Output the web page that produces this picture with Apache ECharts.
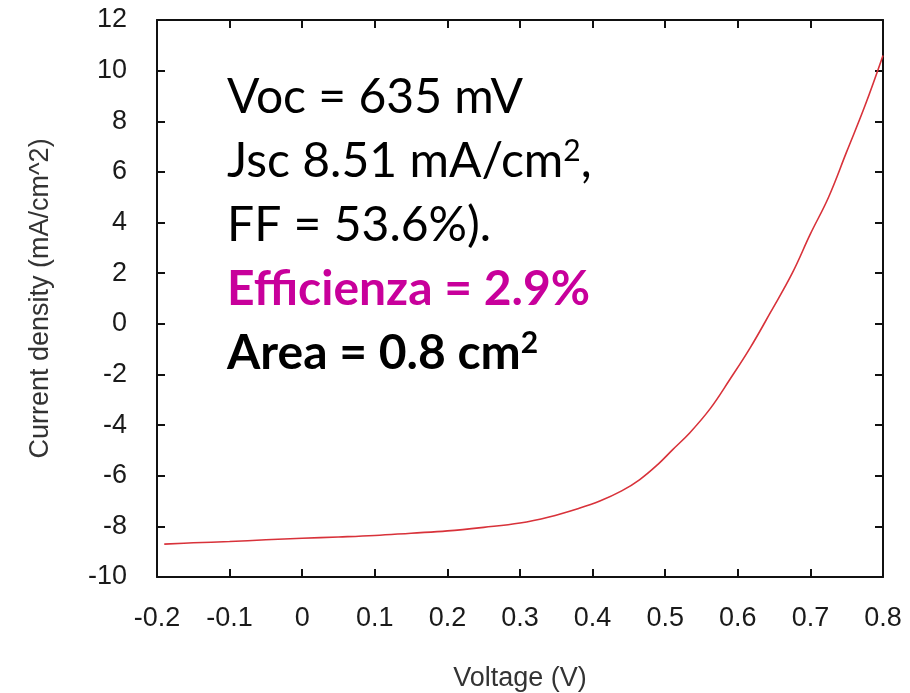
<!DOCTYPE html>
<html><head><meta charset="utf-8">
<script src="https://cdn.jsdelivr.net/npm/echarts@6/dist/echarts.min.js"></script>
<style>html,body{margin:0;padding:0;background:#fff}#c{width:910px;height:693px}</style>
</head><body><div id="c"></div>
<script>
// Voltage (V)
const voltage = [-0.19,-0.15,-0.1,-0.05,0,0.05,0.1,0.15,0.2,0.25,0.3,0.34,0.38,0.41,0.44,0.465,0.49,0.51,0.534,0.562,0.589,0.617,0.645,0.675,0.7,0.725,0.75,0.775,0.8];
// Current density (mA/cm^2)
const current = [-8.70,-8.65,-8.60,-8.53,-8.47,-8.42,-8.36,-8.27,-8.18,-8.04,-7.87,-7.63,-7.30,-7.0,-6.6,-6.15,-5.55,-4.98,-4.3,-3.35,-2.2,-0.95,0.45,2.0,3.55,5.0,6.8,8.6,10.6];
const xTicks = [-0.2,-0.1,0,0.1,0.2,0.3,0.4,0.5,0.6,0.7,0.8];
const yTicks = [-10,-8,-6,-4,-2,0,2,4,6,8,10,12];

const chart = echarts.init(document.getElementById('c'));
const lbl = {fontFamily:'Liberation Sans', fontSize:27, color:'#1a1a1a'};
const axLine = {onZero:false, lineStyle:{color:'#111', width:2}};
const tick = {inside:true, length:8, lineStyle:{color:'#111', width:2}};
const F = '"Lato"';
const big = 48, sup = 30, LH = 64;
chart.setOption({
  animation:false,
  grid:{left:157, top:20, right:27, bottom:116, containLabel:false, outerBoundsMode:'none'},
  xAxis:[{type:'value', min:-0.2, max:0.8, interval:0.1, position:'bottom',
    axisLine:axLine, axisTick:tick, splitLine:{show:false},
    axisLabel:Object.assign({margin:28, formatter:v=>{const r=Math.round(v*10)/10; return xTicks.includes(r)?String(r):'';}}, lbl),
    name:'Voltage (V)', nameLocation:'middle', nameGap:88,
    nameTextStyle:{fontFamily:'Liberation Sans', fontSize:27, color:'#333'}},
   {type:'value', min:-0.2, max:0.8, interval:0.1, position:'top',
    axisLine:axLine, axisTick:tick, axisLabel:{show:false}, splitLine:{show:false}}],
  yAxis:[{type:'value', min:-10, max:12, interval:2, position:'left',
    axisLine:axLine, axisTick:tick, splitLine:{show:false},
    axisLabel:Object.assign({margin:30, formatter:v=>yTicks.includes(v)?String(v):''}, lbl),
    name:'Current density (mA/cm^2)', nameLocation:'middle', nameGap:103,
    nameTextStyle:{fontFamily:'Liberation Sans', fontSize:27, color:'#333'}},
   {type:'value', min:-10, max:12, interval:2, position:'right',
    axisLine:axLine, axisTick:tick, axisLabel:{show:false}, splitLine:{show:false}}],
  series:[{type:'line', data:voltage.map((v,i)=>[v,current[i]]), showSymbol:false, smooth:0.4,
    lineStyle:{color:'#d8323a', width:1.6}}],
  graphic:[
    {type:'text', left:227, top:74, style:{
      text:'{a|Voc = 635 mV}\n{a|Jsc 8.51 mA/cm}{s|2}{a|,}\n{a|FF = 53.6%).}\n{e|Efficienza = 2.9%}\n{b|Area = 0.8 cm}{t|2}',
      rich:{
        a:{font:big+'px '+F, fill:'#000', lineHeight:LH},
        s:{font:sup+'px '+F, fill:'#000', verticalAlign:'top', lineHeight:LH, padding:[6,0,0,0]},
        e:{font:'bold '+big+'px '+F, fill:'#c8009b', lineHeight:LH},
        b:{font:'bold '+big+'px '+F, fill:'#000', lineHeight:LH},
        t:{font:'bold '+sup+'px '+F, fill:'#000', verticalAlign:'top', lineHeight:LH, padding:[6,0,0,0]}
      }}}
  ]
});
</script></body></html>
